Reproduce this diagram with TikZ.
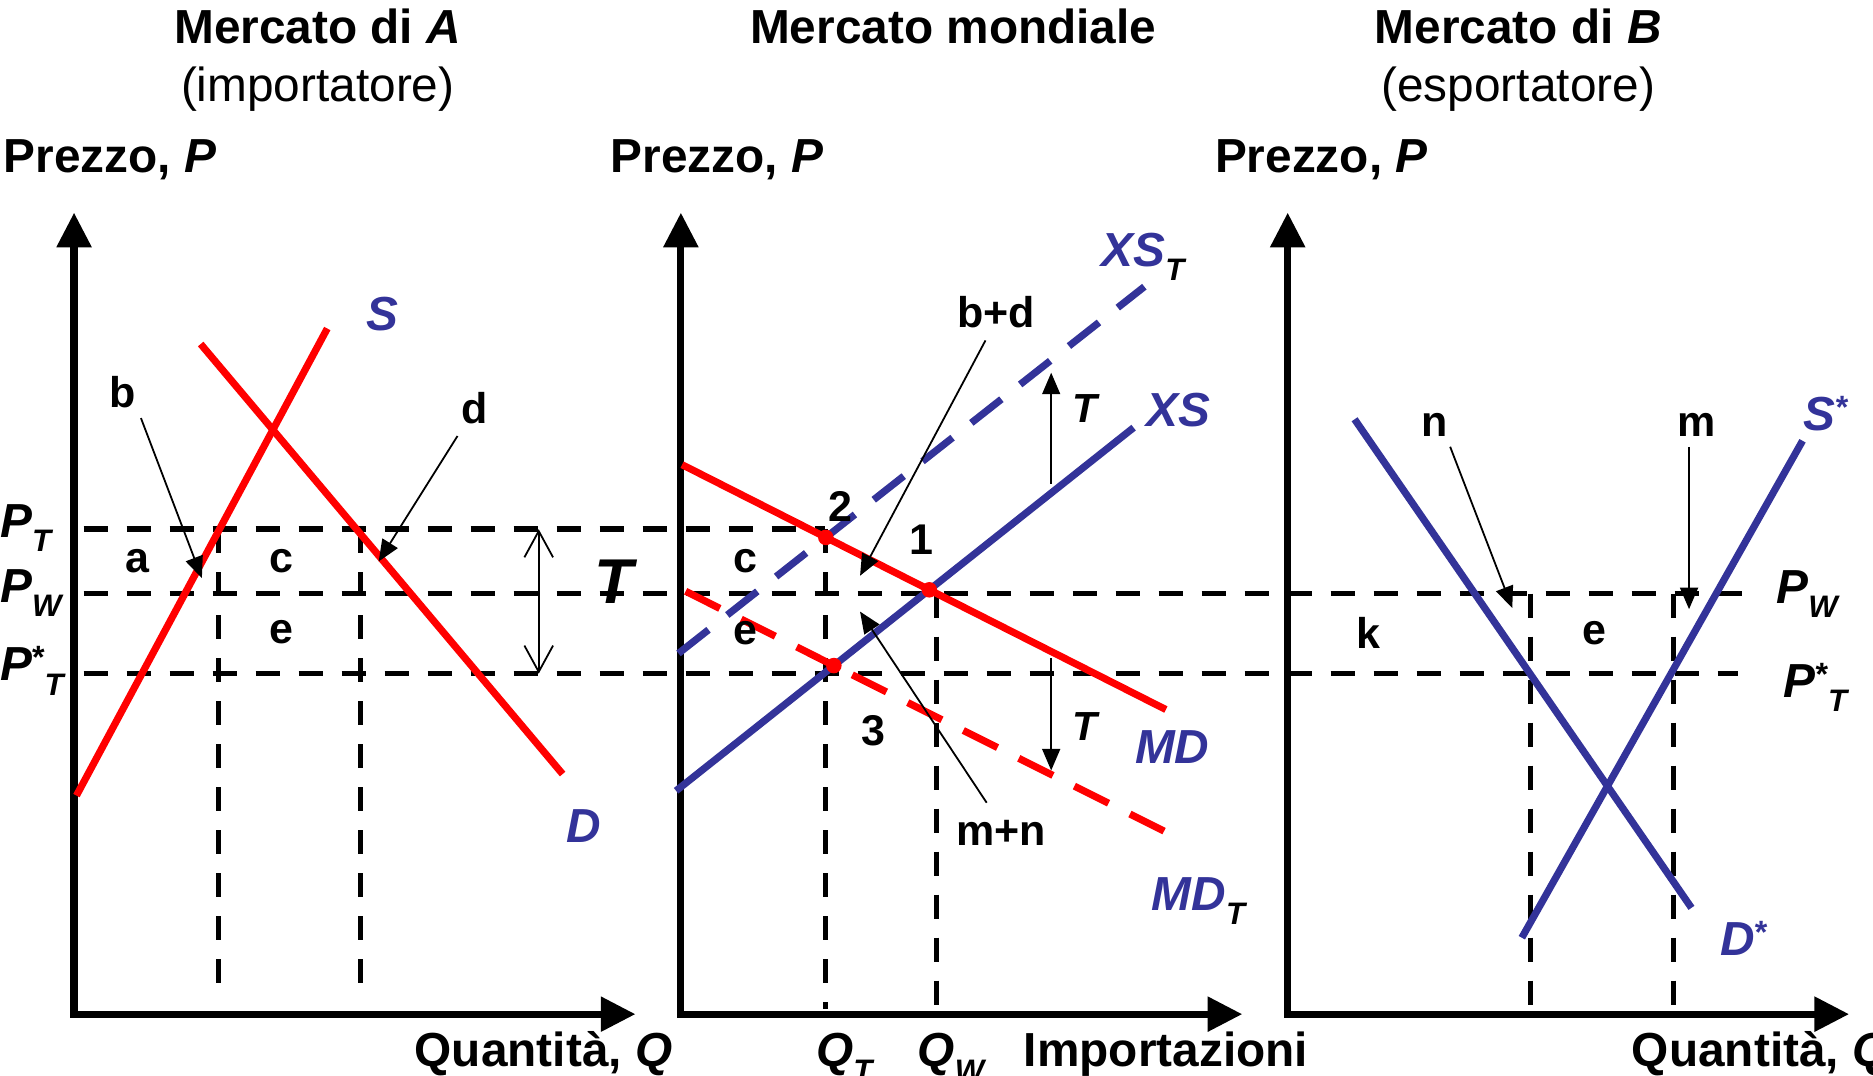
\documentclass[tikz,border=0pt]{standalone}
\usepackage{fontspec}
\setmainfont{Liberation Sans}
\usetikzlibrary{arrows.meta, intersections}

\definecolor{curvered}{RGB}{255,0,0}
\definecolor{curveblue}{RGB}{51,51,153}

% lowered / raised small letters for the price and quantity labels
\newcommand{\lsub}[1]{\raisebox{-12pt}{\fontsize{26}{26}\selectfont\itshape #1}}
\newcommand{\lsup}[1]{\raisebox{10pt}{\fontsize{27}{27}\selectfont #1}}

\begin{document}
\begin{tikzpicture}[x=1pt, y=-1pt,
  big/.style={font=\fontsize{40}{44}\selectfont\bfseries, inner sep=0pt},
  plain/.style={font=\fontsize{40}{44}\selectfont, inner sep=0pt},
  small/.style={font=\fontsize{36}{40}\selectfont\bfseries, inner sep=0pt},
  axis/.style={line width=6pt, line join=miter,
    {Triangle[length=29pt,width=28pt]}-{Triangle[length=29pt,width=28pt]}},
  guide/.style={line width=4.5pt, dash pattern=on 20pt off 16pt},
  curve/.style={line width=6pt},
  shifted/.style={dash pattern=on 32pt off 20pt},
  pointer/.style={line width=1.5pt, -{Triangle[length=18pt,width=15pt]}},
  dot/.style={fill=curvered}]
  \useasboundingbox[fill=white] (0,0) rectangle (1568,900);

  % titles
  \node[big, anchor=base] (titA) at (266,36) {Mercato di \textit{A}};
  \node[plain, anchor=base] (subA) at (266,85) {(importatore)};
  \node[big, anchor=base] (titW) at (798,36) {Mercato mondiale};
  \node[big, anchor=base] (titB) at (1271,36) {Mercato di \textit{B}};
  \node[plain, anchor=base] (subB) at (1271,85) {(esportatore)};
  \node[big, anchor=base west] (prA) at (3,144) {Prezzo, \textit{P}};
  \node[big, anchor=base west] (prW) at (511,144) {Prezzo, \textit{P}};
  \node[big, anchor=base west] (prB) at (1017,144) {Prezzo, \textit{P}};

  % price levels and quantities
  \draw[guide] (70,443) -- (691,443);
  \draw[guide] (70,497) -- (1468,497);
  \draw[guide] (70,564) -- (1455,564);
  \draw[guide] (183,443) -- (183,835);
  \draw[guide] (302,443) -- (302,835);
  \draw[guide] (691,443) -- (691,845);
  \draw[guide] (784,497) -- (784,845);
  \draw[guide] (1281,497) -- (1281,845);
  \draw[guide] (1401,497) -- (1401,845);

  % axes
  \draw[axis] (62,178) -- (62,849) -- (532,849);
  \draw[axis] (570,178) -- (570,849) -- (1040,849);
  \draw[axis] (1078,178) -- (1078,849) -- (1548,849);

  % market A
  \draw[curve, curvered] (64,666) -- (274,275);
  \draw[curve, curvered] (168,288) -- (471,648);

  % world market
  \draw[curve, curvered, name path=MD] (571,389) -- (976,594);
  \draw[curve, curvered, shifted, name path=MDT] (574,495) -- (975,696);
  \draw[curve, curveblue, name path=XS] (566,662) -- (949,358);
  \draw[curve, curveblue, shifted, name path=XST] (568,547) -- (958,240);
  \fill[dot, name intersections={of=MD and XS}] (intersection-1) circle (6.5pt);
  \fill[dot, name intersections={of=MD and XST}] (intersection-1) circle (6.5pt);
  \fill[dot, name intersections={of=MDT and XS}] (intersection-1) circle (6.5pt);

  % market B
  \draw[curve, curveblue] (1134,351) -- (1416,760);
  \draw[curve, curveblue] (1274,785) -- (1509,369);

  % tariff arrows
  \draw[line width=1.5pt, {Straight Barb[length=22pt,width=24pt]}-{Straight Barb[length=22pt,width=24pt]}] (451,443) -- (451,564);
  \draw[pointer] (880,405) -- (880,312);
  \draw[pointer] (880,551) -- (880,645);

  % area pointers
  \coordinate (b-tail) at (118,350);   \coordinate (b-tip) at (169,484);
  \coordinate (d-tail) at (383,365);   \coordinate (d-tip) at (317,470);
  \coordinate (bd-tail) at (825,285);  \coordinate (bd-tip) at (720,482);
  \coordinate (mn-tail) at (826,672);  \coordinate (mn-tip) at (720,512);
  \coordinate (n-tail) at (1214,374);  \coordinate (n-tip) at (1266,509);
  \coordinate (m-tail) at (1414,374);  \coordinate (m-tip) at (1414,510);
  \draw[pointer] (b-tail) -- (b-tip);
  \draw[pointer] (d-tail) -- (d-tip);
  \draw[pointer] (bd-tail) -- (bd-tip);
  \draw[pointer] (mn-tail) -- (mn-tip);
  \draw[pointer] (n-tail) -- (n-tip);
  \draw[pointer] (m-tail) -- (m-tip);

  % labels, market A
  \node[big, anchor=base west] (lPT) at (0,450) {\textit{P}\lsub{T}};
  \node[big, anchor=base west] (lPW) at (0,504) {\textit{P}\lsub{W}};
  \node[big, anchor=base west] (lPTs) at (0,570) {\textit{P}\lsup{*}\lsub{T}};
  \node[big, curveblue, anchor=base west] (lS) at (307,277) {\textit{S}};
  \node[big, curveblue, anchor=base west] (lD) at (474,705) {\textit{D}};
  \node[font=\fontsize{53}{56}\selectfont\bfseries\itshape, inner sep=0pt] (lT) at (514,487) {T};
  \node[small] (la) at (115,470) {a};
  \node[small] (lb) at (103,328) {b};
  \node[small] (lc) at (236,470) {c};
  \node[small] (ld) at (397,342) {d};
  \node[small] (le) at (236,529) {e};

  % labels, world market
  \node[big, curveblue, anchor=base west] (lXST) at (922,223) {\textit{XS}\textcolor{black}{\lsub{T}}};
  \node[big, curveblue, anchor=base west] (lXS) at (960,357) {\textit{XS}};
  \node[big, curveblue, anchor=base west] (lMD) at (950,639) {\textit{MD}};
  \node[big, curveblue, anchor=base west] (lMDT) at (964,762) {\textit{MD}\textcolor{black}{\lsub{T}}};
  \node[small] (lbd) at (834,261) {b+d};
  \node[small] (lmn) at (838,697) {m+n};
  \node[small] (l1) at (771,452) {1};
  \node[small] (l2) at (704,424) {2};
  \node[small] (l3) at (731,612) {3};
  \node[small] (lcw) at (624,470) {c};
  \node[small] (lew) at (624,530) {e};
  \node[small, font=\fontsize{34}{38}\selectfont\bfseries\itshape] (lTup) at (908,342) {T};
  \node[small, font=\fontsize{34}{38}\selectfont\bfseries\itshape] (lTdn) at (908,608) {T};

  % labels, market B
  \node[big, anchor=base west] (rPW) at (1487,505) {\textit{P}\lsub{W}};
  \node[big, anchor=base west] (rPTs) at (1493,584) {\textit{P}\lsup{*}\lsub{T}};
  \node[big, curveblue, anchor=base west] (lSs) at (1510,360) {\textit{S}\lsup{*}};
  \node[big, curveblue, anchor=base west] (lDs) at (1440,800) {\textit{D}\lsup{*}};
  \node[small] (ln) at (1201,356) {n};
  \node[small] (lm) at (1420,356) {m};
  \node[small] (lk) at (1146,530) {k};
  \node[small] (leb) at (1335,530) {e};

  % quantity axes
  \node[big, anchor=base east] (qA) at (563,893) {Quantità, \textit{Q}};
  \node[big, anchor=base west] (qT) at (683,893) {\textit{Q}\lsub{T}};
  \node[big, anchor=base west] (qW) at (768,893) {\textit{Q}\lsub{W}};
  \node[big, anchor=base west] (qI) at (857,893) {Importazioni};
  \node[big, anchor=base west] (qB) at (1366,893) {Quantità, \textit{Q}};
\end{tikzpicture}
\end{document}
